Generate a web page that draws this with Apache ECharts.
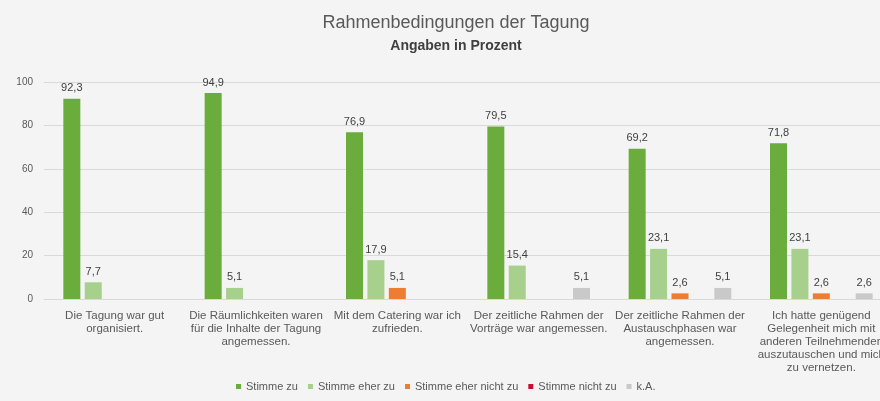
<!DOCTYPE html>
<html><head><meta charset="utf-8">
<script src="https://cdn.jsdelivr.net/npm/echarts@6/dist/echarts.min.js"></script>
<style>html,body{margin:0;padding:0;background:#f4f4f4;overflow:hidden;width:880px;height:401px}#c{width:900px;height:401px}</style>
</head><body><div id="c"></div>
<script>
const categories = [
  "Die Tagung war gut\norganisiert.",
  "Die Räumlichkeiten waren\nfür die Inhalte der Tagung\nangemessen.",
  "Mit dem Catering war ich\nzufrieden.",
  "Der zeitliche Rahmen der\nVorträge war angemessen.",
  "Der zeitliche Rahmen der\nAustauschphasen war\nangemessen.",
  "Ich hatte genügend\nGelegenheit mich mit\nanderen Teilnehmenden\nauszutauschen und mich\nzu vernetzen."
];
const seriesNames = ["Stimme zu", "Stimme eher zu", "Stimme eher nicht zu", "Stimme nicht zu", "k.A."];
const stimmeZu = [92.3, 94.9, 76.9, 79.5, 69.2, 71.8];
const stimmeEherZu = [7.7, 5.1, 17.9, 15.4, 23.1, 23.1];
const stimmeEherNichtZu = [0, 0, 5.1, 0, 2.6, 2.6];
const stimmeNichtZu = [0, 0, 0, 0, 0, 0];
const keineAngabe = [0, 0, 0, 5.1, 5.1, 2.6];
const yTicks = [0, 20, 40, 60, 80, 100];

const values = [stimmeZu, stimmeEherZu, stimmeEherNichtZu, stimmeNichtZu, keineAngabe];
const colors = ["#6aad3d", "#a8d08d", "#ed7d31", "#c8102e", "#c9c9c9"];

const chart = echarts.init(document.getElementById('c'), null, {renderer: 'canvas'});
const font = "'Liberation Sans', Arial, sans-serif";
chart.setOption({
  backgroundColor: '#f4f4f4',
  animation: false,
  title: {
    text: 'Rahmenbedingungen der Tagung',
    subtext: 'Angaben in Prozent',
    left: 451, top: 7, itemGap: 4, textAlign: 'center',
    textStyle: {fontFamily: font, fontSize: 18, fontWeight: 'normal', color: '#595959', lineHeight: 22},
    subtextStyle: {fontFamily: font, fontSize: 14, fontWeight: 'bold', color: '#404040', lineHeight: 16}
  },
  legend: {
    bottom: 4, left: 231, itemWidth: 5, itemHeight: 5, itemGap: 10, icon: 'rect',
    textStyle: {fontFamily: font, fontSize: 11, color: '#595959'},
    data: seriesNames
  },
  grid: {left: 44, right: 8, top: 82, bottom: 102},
  xAxis: {
    type: 'category', data: categories,
    axisLine: {lineStyle: {color: '#d9d9d9'}},
    axisTick: {show: false},
    axisLabel: {interval: 0, fontFamily: font, fontSize: 11.5, color: '#595959', lineHeight: 13, margin: 10}
  },
  yAxis: {
    type: 'value', min: yTicks[0], max: yTicks[yTicks.length - 1], interval: 20,
    axisLine: {show: false}, axisTick: {show: false},
    splitLine: {lineStyle: {color: '#d9d9d9'}},
    axisLabel: {fontFamily: font, fontSize: 10, color: '#595959', margin: 11}
  },
  series: values.map((v, i) => ({
    name: seriesNames[i], type: 'bar', data: v,
    barWidth: 17, barGap: '26%',
    itemStyle: {color: colors[i]},
    label: {
      show: true, position: 'top', distance: 5,
      fontFamily: font, fontSize: 11, color: '#404040',
      formatter: p => p.value > 0 ? p.value.toFixed(1).replace('.', ',') : ''
    }
  }))
});
</script></body></html>
